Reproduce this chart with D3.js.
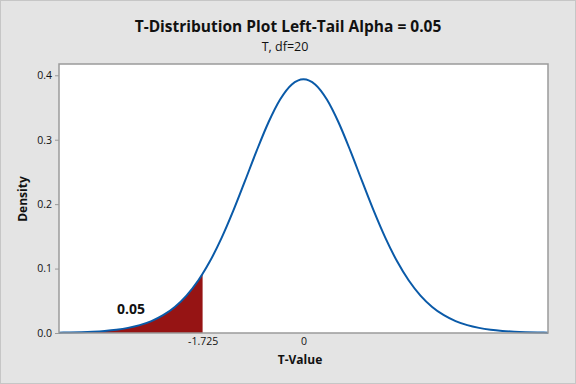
<!DOCTYPE html>
<html><head><meta charset="utf-8">
<script src="https://cdn.jsdelivr.net/npm/d3@7"></script>
<style>html,body{margin:0;padding:0;background:#e4e4e4;}svg{display:block;}</style>
</head><body>
<script>
// t-values (df = 20)
const tValues = [-4.18,-4.0,-3.8,-3.6,-3.4,-3.2,-3.0,-2.8,-2.6,-2.4,-2.2,-2.0,-1.8,-1.725,-1.6,-1.4,-1.2,-1.0,-0.8,-0.6,-0.4,-0.2,0,
  0.2,0.4,0.6,0.8,1.0,1.2,1.4,1.6,1.8,2.0,2.2,2.4,2.6,2.8,3.0,3.2,3.4,3.6,3.8,4.0,4.18];
const densities = [0.00053,0.00082,0.00131,0.00208,0.00328,0.00513,0.00797,0.01223,0.01852,0.02763,0.04047,0.05809,0.08143,0.09182,0.11123,0.14761,0.18986,0.23602,0.28302,0.32667,0.36235,0.38579,0.39397,
  0.38579,0.36235,0.32667,0.28302,0.23602,0.18986,0.14761,0.11123,0.08143,0.05809,0.04047,0.02763,0.01852,0.01223,0.00797,0.00513,0.00328,0.00208,0.00131,0.00082,0.00053];
const critical = -1.725;
const alpha = "0.05";
const yTicks = [0.0,0.1,0.2,0.3,0.4];
const xTicks = [-1.725, 0];
const xTickLabels = ["-1.725","0"];

const W = 576, H = 384;
const m = {left:59, right:28, top:64, bottom:51};
const svg = d3.select("body").append("svg").attr("width",W).attr("height",H);
svg.append("rect").attr("x",0.5).attr("y",0.5).attr("width",W-1).attr("height",H-1)
  .attr("fill","#e4e4e4").attr("stroke","#c6c6c6");

const x = d3.scaleLinear().domain([-4.18,4.18]).range([m.left, W-m.right]);
const y = d3.scaleLinear().domain([0,0.4175]).range([H-m.bottom, m.top]);

svg.append("rect").attr("x",m.left).attr("y",m.top).attr("width",W-m.left-m.right).attr("height",H-m.top-m.bottom)
  .attr("fill","#fff");

const data = tValues.map((t,i)=>({t, d:densities[i]}));
const tail = data.filter(p=>p.t<=critical);

svg.append("path").datum(tail)
  .attr("d", d3.area().x(p=>x(p.t)).y0(y(0)).y1(p=>y(p.d)).curve(d3.curveMonotoneX))
  .attr("fill","#961414");

svg.append("path").datum(data)
  .attr("d", d3.line().x(p=>x(p.t)).y(p=>y(p.d)).curve(d3.curveMonotoneX))
  .attr("fill","none").attr("stroke","#0a5aa8").attr("stroke-width",2);

// frame
svg.append("rect").attr("x",m.left).attr("y",m.top).attr("width",W-m.left-m.right).attr("height",H-m.top-m.bottom)
  .attr("fill","none").attr("stroke","#9a9a9a").attr("stroke-width",1.5);

const font = "'Open Sans','Noto Sans',sans-serif";
// y axis
const ya = svg.append("g").attr("transform",`translate(${m.left},0)`)
  .call(d3.axisLeft(y).tickValues(yTicks).tickFormat(d3.format(".1f")).tickSize(4).tickPadding(3));
ya.select(".domain").remove();
ya.selectAll("line").attr("stroke","#9a9a9a");
ya.selectAll("text").attr("font-family",font).attr("font-size",10.5).attr("fill","#111");

// x axis
const xa = svg.append("g").attr("transform",`translate(0,${H-m.bottom})`)
  .call(d3.axisBottom(x).tickValues(xTicks).tickFormat((d,i)=>xTickLabels[i]).tickSize(0).tickPadding(5));
xa.select(".domain").remove();
xa.selectAll("text").attr("font-family",font).attr("font-size",10.5).attr("fill","#111");

svg.append("text").attr("x",288).attr("y",32).attr("text-anchor","middle")
  .attr("font-family",font).attr("font-weight","bold").attr("font-size",15.5).attr("fill","#111")
  .text("T-Distribution Plot Left-Tail Alpha = 0.05");
svg.append("text").attr("x",285).attr("y",51).attr("text-anchor","middle")
  .attr("font-family",font).attr("font-size",12.5).attr("fill","#111").text("T, df=20");
svg.append("text").attr("x",300).attr("y",364).attr("text-anchor","middle")
  .attr("font-family",font).attr("font-weight","bold").attr("font-size",12).attr("fill","#111").text("T-Value");
svg.append("text").attr("transform","translate(27,199) rotate(-90)").attr("text-anchor","middle")
  .attr("font-family",font).attr("font-weight","bold").attr("font-size",12).attr("fill","#111").text("Density");
svg.append("text").attr("x",131).attr("y",314).attr("text-anchor","middle")
  .attr("font-family",font).attr("font-weight","bold").attr("font-size",14).attr("fill","#111").text(alpha);
</script>
</body></html>
